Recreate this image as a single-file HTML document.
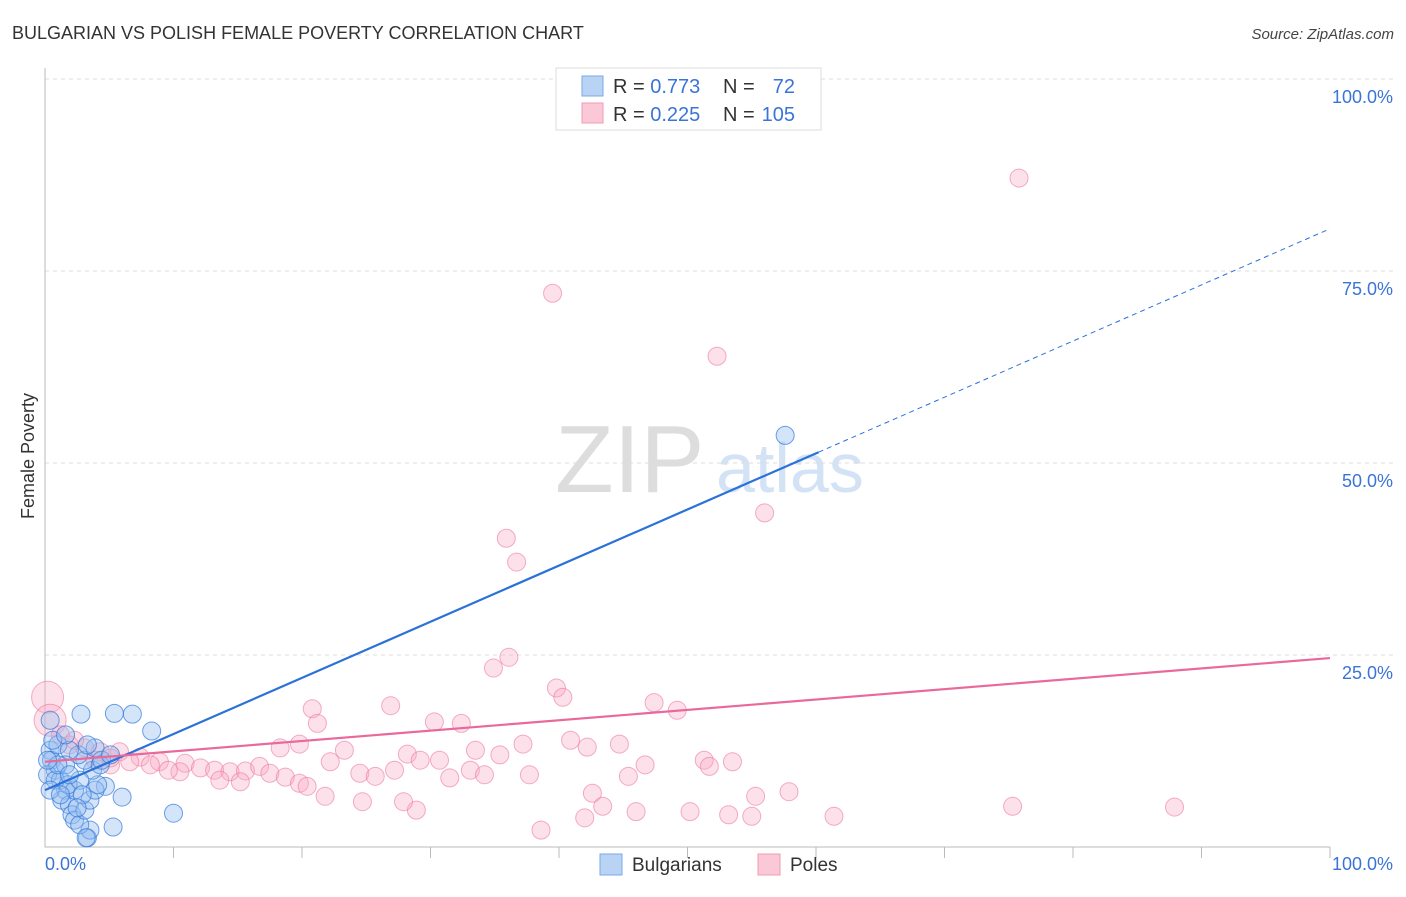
<!DOCTYPE html>
<html><head><meta charset="utf-8"><style>
body{margin:0;background:#fff;font-family:"Liberation Sans",sans-serif}
svg text{font-family:"Liberation Sans",sans-serif}
</style></head><body>
<svg id="chart" width="1406" height="892" viewBox="0 0 1406 892" xmlns="http://www.w3.org/2000/svg">
<text x="12" y="39" font-size="18" fill="#333">BULGARIAN VS POLISH FEMALE POVERTY CORRELATION CHART</text>
<text x="1394" y="39" font-size="15" fill="#444" text-anchor="end" font-style="italic">Source: ZipAtlas.com</text>
<text transform="translate(34,456) rotate(-90)" font-size="18" fill="#333" text-anchor="middle">Female Poverty</text>
<g><text x="555" y="492" font-size="96" fill="#ddd" font-family="Liberation Serif">ZIP</text><text x="716" y="492" font-size="70" fill="#d3e3f5">atlas</text></g>
<g id="grid"></g><g id="axes"></g><g id="pts"></g><g id="lines"></g>
<g>
<rect x="556" y="68" width="265" height="62" fill="#fff" stroke="#ddd"/>
<rect x="582" y="76" width="21" height="20" fill="#b9d3f5" stroke="#7aa8e6"/>
<rect x="582" y="103" width="21" height="20" fill="#fbc8d7" stroke="#f09ab4"/>
<text x="613" y="93" font-size="20" fill="#333">R = <tspan fill="#3a74d6">0.773</tspan></text>
<text x="723" y="93" font-size="20" fill="#333">N = </text><text x="795" y="93" font-size="20" fill="#3a74d6" text-anchor="end">72</text>
<text x="613" y="121" font-size="20" fill="#333">R = <tspan fill="#3a74d6">0.225</tspan></text>
<text x="723" y="121" font-size="20" fill="#333">N = </text><text x="795" y="121" font-size="20" fill="#3a74d6" text-anchor="end">105</text>
</g>
<g>
<rect x="600" y="854" width="22" height="21" fill="#b9d3f5" stroke="#7aa8e6"/><text x="632" y="871" font-size="19" fill="#333">Bulgarians</text>
<rect x="758" y="854" width="22" height="21" fill="#fbc8d7" stroke="#f09ab4"/><text x="790" y="871" font-size="19" fill="#333">Poles</text>
</g>
</svg>
<script>
const yTicks=[100,75,50,25];
const yTickLabels=["100.0%","75.0%","50.0%","25.0%"];
const bulX=[57.6,2.8,5.4,6.8,8.3,6.0,10.0,5.3,4.7,3.3,3.5,0.4,0.4,0.5,0.8,0.2,1.0,1.2,1.6,1.3,1.9,2.1,2.3,2.7,3.1,3.5,3.9,4.1,3.7,3.1,2.6,1.9,3.9,3.3,1.6,0.8,0.4,0.6,1.6,2.3,1.8,1.2,2.7,4.3,1.0,0.2,1.9,2.9,2.5,4.4,5.1,3.2];
const bulY=[53.6,17.3,17.4,17.3,15.1,6.5,4.4,2.6,7.9,1.2,2.2,16.5,12.6,11.3,10.0,9.4,13.3,8.7,7.4,6.1,5.5,4.2,3.5,2.9,4.8,6.1,7.4,8.1,10.0,11.3,12.0,12.6,12.9,13.3,10.7,8.7,7.4,13.9,14.6,7.4,8.1,6.8,8.7,10.7,10.7,11.3,9.4,6.8,5.1,11.3,12.0,1.2];
const polX=[75.8,39.5,52.3,56.0,35.9,36.7,34.9,36.1,39.8,40.3,47.4,49.2,26.9,20.8,21.2,30.3,32.4,0.2,0.4,1.2,1.9,3.1,4.3,5.8,7.4,8.9,10.9,12.1,13.2,14.4,15.6,16.7,17.5,18.7,19.8,18.3,19.8,22.2,23.3,24.5,25.7,27.2,28.2,29.2,30.7,31.5,33.1,34.2,33.5,35.4,37.2,37.7,40.9,42.2,44.7,45.4,46.7,51.3,51.7,53.5,42.6,43.4,46.0,50.2,53.2,55.0,55.3,57.9,61.4,75.3,87.9,38.6,42.0,28.9,27.9,24.7,21.8,20.4,15.2,13.6,10.5,9.6,8.2,6.6,5.1,3.9,2.3,5.1];
const polY=[87.1,72.1,63.9,43.5,40.2,37.1,23.3,24.7,20.7,19.5,18.8,17.8,18.4,18.0,16.1,16.3,16.1,19.5,16.5,14.6,13.3,12.9,12.4,12.4,11.7,11.1,10.9,10.3,10.0,9.8,9.9,10.5,9.6,9.1,8.3,12.9,13.4,11.1,12.6,9.6,9.2,10.0,12.1,11.3,11.3,9.0,10.0,9.4,12.6,12.0,13.4,9.4,13.9,13.0,13.4,9.2,10.7,11.3,10.5,11.1,7.0,5.3,4.6,4.6,4.2,4.0,6.6,7.2,4.0,5.3,5.2,2.2,3.8,4.8,5.9,5.9,6.6,7.9,8.5,8.7,9.8,10.0,10.7,11.1,10.7,11.3,13.9,11.6];
const bulTrend=[7.4,0.731];
const polTrend=[11.1,0.135];
const NS="http://www.w3.org/2000/svg";
const sx=v=>45+v*12.85, sy=v=>847-v*7.68;
function mk(t,a,p){const e=document.createElementNS(NS,t);for(const k in a)e.setAttribute(k,a[k]);document.getElementById(p).appendChild(e);return e;}
yTicks.forEach((t,i)=>{
 const g=mk('line',{x1:45,x2:1394,y1:sy(t),y2:sy(t),stroke:'#ddd','stroke-dasharray':'4,4'},'grid');
 
 
 const l=mk('text',{x:1393,y:sy(t)+24,'font-size':18,fill:'#3a74d6','text-anchor':'end'},'grid');l.textContent=yTickLabels[i];
 
 
});
const ax=mk('path',{d:'M45 68V847H1330',stroke:'#bbb',fill:'none'},'axes');


for(let i=1;i<=10;i++){const t=mk('line',{x1:sx(i*10),x2:sx(i*10),y1:847,y2:858,stroke:'#bbb'},'axes');
 
 }
[["0.0%",45,'start'],["100.0%",1393,'end']].forEach(d=>{const t=mk('text',{x:d[1],y:870,'font-size':18,fill:'#3a74d6','text-anchor':d[2]},'axes');t.textContent=d[0];
 
 });
polX.forEach((x,i)=>{const r=(i==17||i==18)?16:9;const c=mk('circle',{cx:sx(x),cy:sy(polY[i]),r:r,fill:'rgba(248,170,195,0.35)',stroke:'rgba(236,120,160,0.6)'},'pts');
 
 });
bulX.forEach((x,i)=>{const c=mk('circle',{cx:sx(x),cy:sy(bulY[i]),r:9,fill:'rgba(150,190,240,0.4)',stroke:'rgba(50,120,220,0.7)'},'pts');
 
 });
const b1=mk('line',{x1:sx(0),y1:sy(bulTrend[0]),x2:sx(60.2),y2:sy(bulTrend[0]+bulTrend[1]*60.2),stroke:'#2a72d8','stroke-width':2.2},'lines');


const b2=mk('line',{x1:sx(60.2),y1:sy(bulTrend[0]+bulTrend[1]*60.2),x2:sx(100),y2:sy(bulTrend[0]+bulTrend[1]*100),stroke:'#2a72d8','stroke-width':1,'stroke-dasharray':'5,4'},'lines');


const p1=mk('line',{x1:sx(0),y1:sy(polTrend[0]),x2:sx(100),y2:sy(polTrend[0]+polTrend[1]*100),stroke:'#e8699a','stroke-width':2.2},'lines');


</script>
</body></html>
